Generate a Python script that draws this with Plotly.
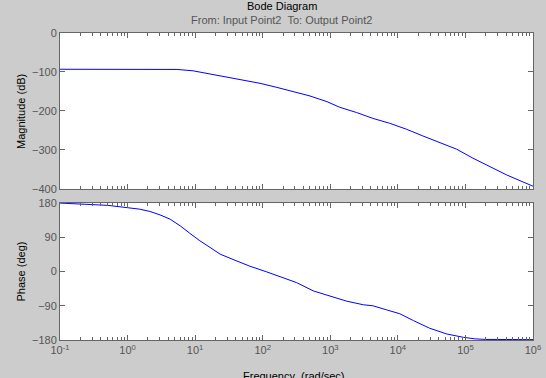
import plotly.graph_objects as go

# ---- data ----
mag_freq = [0.1, 3.02, 5.37, 9.33, 16.6, 29.5, 51.3, 91.2, 158, 282, 501, 891,
            1380, 2450, 4270, 7590, 13500, 23400, 41700, 74100, 129000, 229000,
            407000, 1000000]
mag_db = [-93, -93, -93.5, -97, -105, -112, -120.5, -129, -139, -150, -161.5, -176,
          -190.5, -204, -219, -231.6, -247, -264, -281, -298, -321, -343, -364, -393]

ph_freq = [0.1, 0.166, 0.25, 0.51, 0.98, 1.51, 2.14, 3.02, 4.27, 6.03, 8.32, 11.7,
           16.6, 23.4, 36.3, 64.6, 115, 178, 316, 562, 977, 1740, 3090, 4270, 6760,
           10700, 17000, 29500, 52500, 93300, 138000, 200000, 1000000]
ph_deg = [180, 178, 177, 174, 168, 164, 158, 149, 137.6, 120, 100.6, 81, 63.5, 45.8,
          31.8, 14, -1, -14, -29, -51, -64.5, -77.8, -87.4, -90, -100.6, -111, -129,
          -149, -164, -173, -177, -178.5, -179]

x_tickvals = [0.1, 1, 10, 100, 1000, 10000, 100000, 1000000]
x_ticktext = ["10<sup>-1</sup>", "10<sup>0</sup>", "10<sup>1</sup>", "10<sup>2</sup>",
              "10<sup>3</sup>", "10<sup>4</sup>", "10<sup>5</sup>", "10<sup>6</sup>"]
mag_ticks = [0, -100, -200, -300, -400]
ph_ticks = [180, 90, 0, -90, -180]

title = "Bode Diagram"
subtitle = "From: Input Point2  To: Output Point2"

# ---- figure ----
AX = "#666666"
LBL = "#555555"
FONT = "Liberation Sans, Arial, Helvetica, sans-serif"

fig = go.Figure()
fig.add_trace(go.Scatter(x=mag_freq, y=mag_db, mode="lines",
                         line=dict(color="#0000ff", width=1), xaxis="x", yaxis="y",
                         showlegend=False, hoverinfo="skip"))
fig.add_trace(go.Scatter(x=ph_freq, y=ph_deg, mode="lines",
                         line=dict(color="#0000ff", width=1), xaxis="x2", yaxis="y2",
                         showlegend=False, hoverinfo="skip"))

common_x = dict(type="log", range=[-1, 6], showgrid=False, zeroline=False,
                showline=True, linecolor=AX, linewidth=1, mirror="ticks",
                ticks="inside", ticklen=5, tickcolor=AX,
                tickvals=x_tickvals,
                minor=dict(ticks="inside", ticklen=3, tickcolor=AX, dtick="D1",
                           showgrid=False))
common_y = dict(showgrid=False, zeroline=False, showline=True, linecolor=AX,
                linewidth=1, mirror="ticks", ticks="inside", ticklen=5, tickcolor=AX,
                tickfont=dict(color=LBL, size=11, family=FONT))

fig.update_layout(
    width=546, height=378,
    margin=dict(l=60, r=13, t=33, b=38, autoexpand=False),
    paper_bgcolor="#cccccc", plot_bgcolor="#ffffff",
    font=dict(family=FONT, size=11, color=LBL),
    xaxis=dict(common_x, domain=[0, 1], anchor="y", showticklabels=False),
    yaxis=dict(common_y, domain=[0.492, 1], range=[-400, 0], tickvals=mag_ticks,
               anchor="x"),
    xaxis2=dict(common_x, domain=[0, 1], anchor="y2", showticklabels=True,
                ticktext=x_ticktext, tickfont=dict(color=LBL, size=11, family=FONT)),
    yaxis2=dict(common_y, domain=[0, 0.446], range=[-180, 180], tickvals=ph_ticks,
                anchor="x2"),
    annotations=[
        dict(text=title, xref="paper", yref="paper", x=0.469, y=1.088,
             xanchor="center", yanchor="middle", showarrow=False,
             font=dict(color="#000000", size=11, family=FONT)),
        dict(text=subtitle, xref="paper", yref="paper", x=0.469, y=1.042,
             xanchor="center", yanchor="middle", showarrow=False,
             font=dict(color=LBL, size=11, family=FONT)),
        dict(text="Magnitude (dB)", xref="paper", yref="paper", x=-0.0825,
             y=(0.492 + 1) / 2, textangle=-90, xanchor="center", yanchor="middle",
             showarrow=False, font=dict(color="#000000", size=11, family=FONT)),
        dict(text="Phase (deg)", xref="paper", yref="paper", x=-0.0825,
             y=0.446 / 2, textangle=-90, xanchor="center", yanchor="middle",
             showarrow=False, font=dict(color="#000000", size=11, family=FONT)),
        dict(text="Frequency  (rad/sec)", xref="paper", yref="paper", x=0.493,
             y=-0.117, xanchor="center", yanchor="middle", showarrow=False,
             font=dict(color="#000000", size=11, family=FONT)),
    ],
)

fig.write_html("out.html",
               config={"displayModeBar": False},
               post_script="document.body.style.margin='0';"
                           "document.body.style.overflow='hidden';")
